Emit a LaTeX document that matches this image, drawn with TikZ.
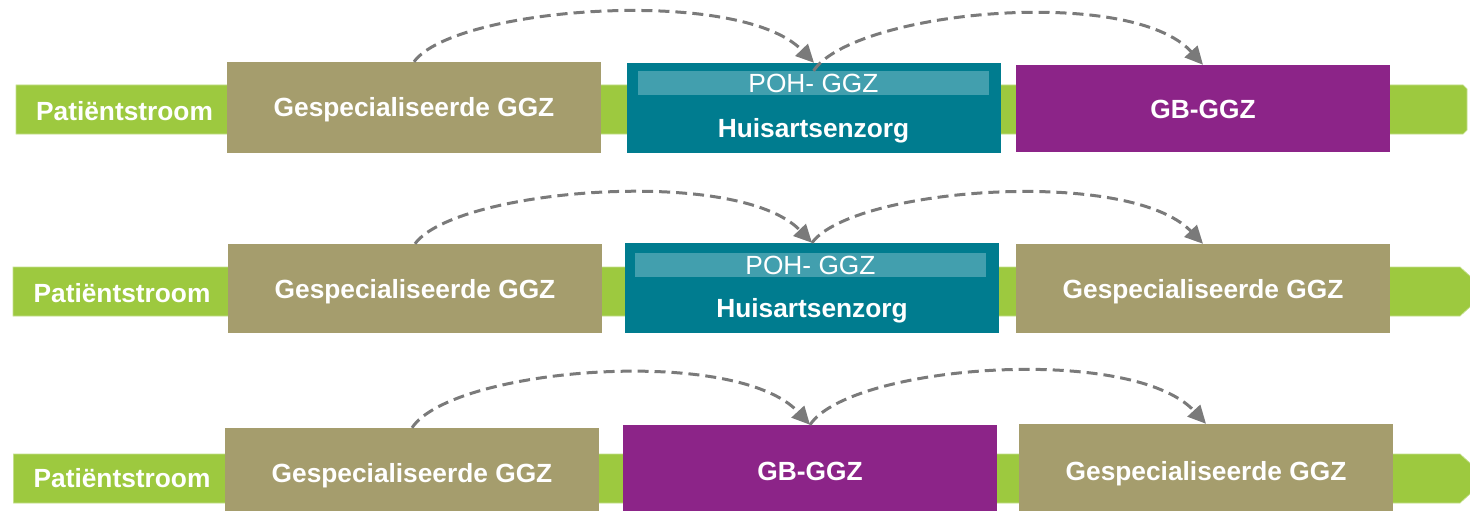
\documentclass[tikz,border=0pt]{standalone}
\usepackage{fontspec}
\setmainfont{Liberation Sans}
\usetikzlibrary{arrows.meta}
\definecolor{barg}{HTML}{9DC93F}
\definecolor{ggztan}{HTML}{A59D6D}
\definecolor{huis}{HTML}{007C8F}
\definecolor{pohc}{HTML}{429FAE}
\definecolor{gbp}{HTML}{8C2488}
\definecolor{arr}{HTML}{7A7A7A}
\begin{document}
\begin{tikzpicture}[x=1pt,y=-1pt,
  lbl/.style={inner sep=0pt, text=white, text height=19pt, text depth=0pt,
    font=\bfseries\fontsize{26.3}{30}\selectfont},
  box/.style={lbl, rectangle, minimum width=374pt},
  spec/.style={box, fill=ggztan},
  gbbox/.style={box, fill=gbp},
  huisbox/.style={box, fill=huis},
  pohbar/.style={lbl, rectangle, fill=pohc, minimum width=351pt, minimum height=24pt,
    font=\fontsize{26.3}{30}\selectfont},
  stream/.style={fill=barg, draw=barg!60!white, line width=0.7pt},
  flow/.style={draw=arr, line width=3pt, dash pattern=on 11pt off 6pt,
    -{Triangle[length=18pt,width=17pt]}, fill=none}
]
\useasboundingbox (0,0) rectangle (1470,511);
\clip (0,0) rectangle (1470,511);

% stream bars
\path[stream] (16,85) -- (1463,85) -- (1467,89) -- (1467,130) -- (1463,134) -- (16,134) -- cycle;
\path[stream] (13,267) -- (1460,267) -- (1471,277) -- (1471,306) -- (1460,316) -- (13,316) -- cycle;
\path[stream] (13.5,454) -- (1460,454) -- (1471,464) -- (1471,493) -- (1460,503) -- (13.5,503) -- cycle;

\node[lbl] (ps1) at (124.5,110.5) {Patiëntstroom};
\node[lbl] (ps2) at (122,292.5) {Patiëntstroom};
\node[lbl] (ps3) at (122,478) {Patiëntstroom};

% row 1
\node[spec, minimum height=91pt] (g1) at (414,107.5) {Gespecialiseerde GGZ};
\node[huisbox, minimum height=90pt] (h1) at (814,108) {};
\node[pohbar] (poh1) at (813.5,83) {POH- GGZ};
\node[lbl] (hz1) at (813.5,127.5) {Huisartsenzorg};
\node[gbbox, minimum height=87pt] (p1) at (1203,108.5) {GB-GGZ};

% row 2
\node[spec, minimum height=89pt] (g2a) at (415,288.5) {Gespecialiseerde GGZ};
\node[huisbox, minimum height=90pt] (h2) at (812,288) {};
\node[pohbar] (poh2) at (810.5,265) {POH- GGZ};
\node[lbl] (hz2) at (812,307.5) {Huisartsenzorg};
\node[spec, minimum height=89pt] (g2b) at (1203,288.5) {Gespecialiseerde GGZ};

% row 3
\node[spec, minimum height=90pt] (g3a) at (412,473) {Gespecialiseerde GGZ};
\node[gbbox, minimum height=92pt] (p3) at (810,471) {GB-GGZ};
\node[spec, minimum height=94pt] (g3b) at (1206,471) {Gespecialiseerde GGZ};

% connectors
\draw[flow] (g1.north) .. controls +(40,-55) and +(-74,-77) .. (h1.north);
\draw[flow] (poh1.north) .. controls +(40,-60) and +(-72,-80) .. (p1.north);
\draw[flow] (g2a.north) .. controls +(40,-55) and +(-74,-77) .. (h2.north);
\draw[flow] (h2.north) .. controls +(40,-55) and +(-74,-77) .. (g2b.north);
\draw[flow] (g3a.north) .. controls +(40,-60) and +(-74,-80) .. (p3.north);
\draw[flow] (p3.north) .. controls +(40,-60) and +(-74,-80) .. (g3b.north);
\end{tikzpicture}
\end{document}
